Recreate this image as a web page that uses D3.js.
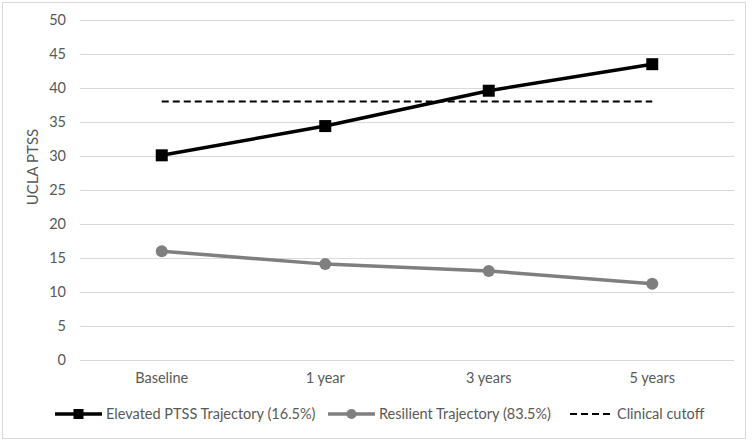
<!DOCTYPE html>
<html><head><meta charset="utf-8">
<script src="https://cdn.jsdelivr.net/npm/d3@7"></script>
<style>
html,body{margin:0;padding:0;background:#fff;}
text{font-family:Lato,"Open Sans",sans-serif;fill:#595959;}
</style></head>
<body><svg id="c" width="756" height="443"></svg>
<script>
const categories = ["Baseline","1 year","3 years","5 years"];
const elevated = [30.1, 34.4, 39.6, 43.5];
const resilient = [16.0, 14.1, 13.1, 11.2];
const cutoff = [38, 38, 38, 38];
const yTicks = [0,5,10,15,20,25,30,35,40,45,50];
const seriesNames = ["Elevated PTSS Trajectory (16.5%)","Resilient Trajectory (83.5%)","Clinical cutoff"];

const svg = d3.select("#c");
svg.append("rect").attr("x",2.5).attr("y",2.5).attr("width",743).attr("height",436)
  .attr("fill","#fff").attr("stroke","#d9d9d9").attr("stroke-width",1);

const pL=80,pR=734,pT=20,pB=360;
const fs = 14.5;
const x = d3.scaleBand().domain(categories).range([pL,pR]).padding(0);
const y = d3.scaleLinear().domain([0,50]).range([pB,pT]);
const cx = d => x(d)+x.bandwidth()/2;

const grid = svg.append("g");
grid.selectAll("line").data(yTicks).join("line")
  .attr("x1",pL).attr("x2",pR)
  .attr("y1",d=>Math.round(y(d))+0.5).attr("y2",d=>Math.round(y(d))+0.5)
  .attr("stroke","#d9d9d9").attr("stroke-width",1);

const yAxis = d3.axisLeft(y).tickValues(yTicks).tickSize(0).tickPadding(14);
const ga = svg.append("g").attr("transform",`translate(${pL},0)`).call(yAxis);
ga.select(".domain").remove();
ga.selectAll("text").attr("font-size",fs).style("font-family","Lato,sans-serif").attr("fill","#595959");

const xAxis = d3.axisBottom(x).tickSize(0).tickPadding(13);
const gx = svg.append("g").attr("transform",`translate(0,${pB})`).call(xAxis);
gx.select(".domain").remove();
gx.selectAll("text").attr("font-size",fs).style("font-family","Lato,sans-serif").attr("fill","#595959");

svg.append("text").attr("transform","translate(38,167) rotate(-90)")
  .attr("text-anchor","middle").attr("font-size",15).text("UCLA PTSS");

const line = d3.line().x((d,i)=>cx(categories[i])).y(d=>y(d));

svg.append("path").datum(cutoff).attr("d",line).attr("fill","none")
  .attr("stroke","#000").attr("stroke-width",2).attr("stroke-dasharray","7,4");

svg.append("path").datum(resilient).attr("d",line).attr("fill","none")
  .attr("stroke","#7f7f7f").attr("stroke-width",3.5).attr("stroke-linejoin","round");
svg.selectAll(".rc").data(resilient).join("circle").attr("class","rc")
  .attr("cx",(d,i)=>cx(categories[i])).attr("cy",d=>y(d)).attr("r",6).attr("fill","#7f7f7f");

svg.append("path").datum(elevated).attr("d",line).attr("fill","none")
  .attr("stroke","#000").attr("stroke-width",3.5).attr("stroke-linejoin","round");
svg.selectAll(".es").data(elevated).join("rect").attr("class","es")
  .attr("x",(d,i)=>cx(categories[i])-6).attr("y",d=>y(d)-6).attr("width",12).attr("height",12).attr("fill","#000");

const ly = 414;
const leg = svg.append("g");
const items = [
  {x1:55,x2:102,tx:106,stroke:"#000",w:3.5,dash:null,marker:"sq"},
  {x1:328,x2:375,tx:379,stroke:"#7f7f7f",w:3.5,dash:null,marker:"ci"},
  {x1:570,x2:613,tx:617,stroke:"#000",w:2,dash:"7,4",marker:null}
];
items.forEach((it,i)=>{
  leg.append("line").attr("x1",it.x1).attr("x2",it.x2).attr("y1",ly).attr("y2",ly)
    .attr("stroke",it.stroke).attr("stroke-width",it.w).attr("stroke-dasharray",it.dash);
  const mx=(it.x1+it.x2)/2;
  if(it.marker==="sq") leg.append("rect").attr("x",mx-5).attr("y",ly-5).attr("width",10).attr("height",10).attr("fill","#000");
  if(it.marker==="ci") leg.append("circle").attr("cx",mx).attr("cy",ly).attr("r",5).attr("fill","#7f7f7f");
  leg.append("text").attr("x",it.tx).attr("y",ly).attr("dy","0.35em").attr("font-size",fs).text(seriesNames[i]);
});
</script></body></html>
